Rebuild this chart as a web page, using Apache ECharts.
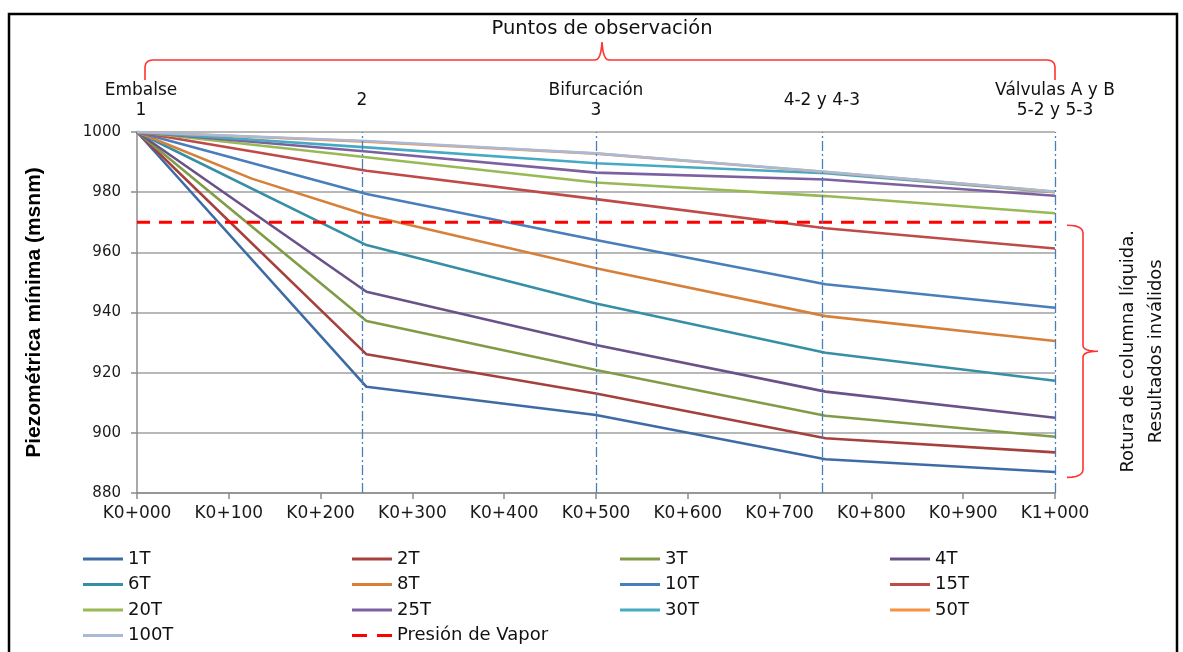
<!DOCTYPE html>
<html><head><meta charset="utf-8">
<script src="https://cdn.jsdelivr.net/npm/echarts@6/dist/echarts.min.js"></script>
<style>html,body{margin:0;padding:0;background:#fff}#c{width:1183px;height:652px}</style>
</head><body><div id="c"></div>
<script>
// ---- data ----
const stations = [0, 250, 500, 750, 1000];
const stations8T = [0, 125, 250, 500, 750, 1000];
const s1T   = [1000, 915.3, 905.9, 891.2, 887.0];
const s2T   = [1000, 926.1, 913.1, 898.2, 893.5];
const s3T   = [1000, 937.2, 920.9, 905.7, 898.7];
const s4T   = [1000, 946.9, 929.2, 913.7, 905.0];
const s6T   = [1000, 962.4, 943.0, 926.6, 917.3];
const s8T   = [1000, 984.5, 972.4, 954.7, 938.8, 930.5];
const s10T  = [1000, 979.4, 964.1, 949.4, 941.6];
const s15T  = [1000, 987.1, 977.7, 968.0, 961.3];
const s20T  = [1000, 991.6, 983.2, 978.7, 973.0];
const s25T  = [1000, 993.5, 986.5, 984.2, 978.8];
const s30T  = [1000, 994.9, 989.6, 986.3, 980.0];
const s50T  = [1000, 996.8, 992.8, 986.7, 980.1];
const s100T = [1000, 997.0, 992.9, 986.8, 980.2];
const seriesNames = ['1T','2T','3T','4T','6T','8T','10T','15T','20T','25T','30T','50T','100T'];
const seriesValues = [s1T,s2T,s3T,s4T,s6T,s8T,s10T,s15T,s20T,s25T,s30T,s50T,s100T];
const seriesStations = {'8T': stations8T};
const vaporName = 'Presión de Vapor';
const vaporLevel = 970;
const xTickLabels = ['K0+000','K0+100','K0+200','K0+300','K0+400','K0+500','K0+600','K0+700','K0+800','K0+900','K1+000'];
const obsX = [0, 245, 500, 746, 1000];
const obsLabels = ['Embalse\n1', '2', 'Bifurcación\n3', '4-2 y 4-3', 'Válvulas A y B\n5-2 y 5-3'];
const obsTitle = 'Puntos de observación';
const ruptureText = 'Rotura de columna líquida.\nResultados inválidos';
const ruptureRange = [969, 885.2];
const yAxisTitle = 'Piezométrica mínima (msnm)';

// ---- style ----
const colors = ['#3f6ba5','#a5403d','#809c47','#6a5289','#368fa5','#d6803a','#4a7ebb','#be4b48','#98b954','#7d60a0','#46aac5','#f69240','#a9b9d6'];
const F = 'DejaVu Sans';

const chart = echarts.init(document.getElementById('c'), null, {renderer: 'canvas'});

const series = seriesNames.map((n, i) => {
  const xs = seriesStations[n] || stations;
  return {
    name: n, type: 'line', symbol: 'none', smooth: false,
    data: xs.map((x, j) => [x, seriesValues[i][j]]),
    lineStyle: {width: 2.6, color: colors[i]}, itemStyle: {color: colors[i]},
    z: 3
  };
});
series.push({
  name: vaporName, type: 'line', symbol: 'none',
  data: [[stations[0], vaporLevel], [stations[stations.length - 1], vaporLevel]],
  lineStyle: {width: 3, color: '#ff0000', type: [13, 9]}, itemStyle: {color: '#ff0000'},
  z: 4,
  markLine: {
    silent: true, symbol: 'none', label: {show: false},
    lineStyle: {color: '#4a7ebb', width: 1.3, type: [10, 3, 2, 3]},
    data: obsX.slice(1).map(x => ({xAxis: x}))
  }
});

const solidIcon = 'path://M0,0 H40 V3 H0 Z';
const dashIcon = 'path://M0,0 H15 V3 H0 Z M25,0 H40 V3 H25 Z';
const legendCols = [
  ['1T','6T','20T','100T'],
  ['2T','8T','25T',vaporName],
  ['3T','10T','30T'],
  ['4T','15T','50T']
];
const legendLeft = [83, 352, 620, 890];
const legends = legendCols.map((d, i) => ({
  data: d.map(n => ({name: n, icon: n === vaporName ? dashIcon : solidIcon})),
  orient: 'vertical', left: legendLeft[i], top: 550, padding: 0, height: 102,
  itemWidth: 40, itemHeight: 3, itemGap: 7.5, selectedMode: false,
  textStyle: {fontFamily: F, fontSize: 18, color: '#111'}
}));

chart.setOption({
  animation: false,
  backgroundColor: '#fff',
  grid: {left: 137, right: 128, top: 132, bottom: 159, containLabel: false},
  legend: legends,
  xAxis: {
    type: 'value', min: 0, max: 1000, interval: 100,
    axisLine: {show: true, lineStyle: {color: '#8c8c8c', width: 1.5}},
    axisTick: {show: true, inside: false, length: 6, lineStyle: {color: '#8c8c8c', width: 1.5}},
    axisLabel: {margin: 12, fontFamily: F, fontSize: 17, color: '#1a1a1a',
      formatter: v => xTickLabels[Math.round(v / 100)]},
    splitLine: {show: false}
  },
  yAxis: {
    type: 'value', min: 880, max: 1000, interval: 20,
    name: yAxisTitle, nameLocation: 'middle', nameGap: 92, nameRotate: 90,
    nameTextStyle: {fontFamily: 'Liberation Sans', fontWeight: 'bold', fontSize: 21, color: '#000'},
    axisLine: {show: true, lineStyle: {color: '#8c8c8c', width: 1.5}},
    axisTick: {show: true, inside: false, length: 6, lineStyle: {color: '#8c8c8c', width: 1.5}},
    axisLabel: {margin: 16, fontFamily: F, fontSize: 15, color: '#1a1a1a', formatter: v => String(v)},
    splitLine: {show: true, lineStyle: {color: '#a0a0a0', width: 1.5}}
  },
  series: series
});

// ---- annotations (positions from the chart's own scales) ----
const px = (x, y) => chart.convertToPixel({gridIndex: 0}, [x, y]);
function quad(p0, c, p1, n) {
  const pts = [];
  for (let k = 1; k <= n; k++) {
    const t = k / n, u = 1 - t;
    pts.push([u*u*p0[0] + 2*u*t*c[0] + t*t*p1[0], u*u*p0[1] + 2*u*t*c[1] + t*t*p1[1]]);
  }
  return pts;
}
const xl = px(obsX[0], 1000)[0] + 8;
const xr = px(obsX[obsX.length - 1], 1000)[0];
const xm = (xl + xr) / 2 + 2;
const hY = 60, tipY = 42, endY = 80;
let topPts = [[xl, endY], [xl, hY + 8]];
topPts = topPts.concat(quad([xl, hY + 8], [xl, hY], [xl + 8, hY], 6));
topPts.push([xm - 7, hY]);
topPts = topPts.concat(quad([xm - 7, hY], [xm - 1, hY], [xm, tipY], 6));
topPts = topPts.concat(quad([xm, tipY], [xm + 1, hY], [xm + 7, hY], 6));
topPts.push([xr - 8, hY]);
topPts = topPts.concat(quad([xr - 8, hY], [xr, hY], [xr, hY + 8], 6));
topPts.push([xr, endY]);

const rTop = px(1000, ruptureRange[0])[1];
const rBot = px(1000, ruptureRange[1])[1];
const rMid = (rTop + rBot) / 2;
const bx0 = xr + 12, bx1 = xr + 28, bx2 = xr + 43;
let rbPts = [[bx0, rTop]];
rbPts = rbPts.concat(quad([bx0, rTop], [bx1, rTop], [bx1, rTop + 8], 6));
rbPts.push([bx1, rMid - 6]);
rbPts = rbPts.concat(quad([bx1, rMid - 6], [bx1, rMid], [bx2, rMid], 6));
rbPts = rbPts.concat(quad([bx2, rMid], [bx1, rMid], [bx1, rMid + 6], 6));
rbPts.push([bx1, rBot - 8]);
rbPts = rbPts.concat(quad([bx1, rBot - 8], [bx1, rBot], [bx0, rBot], 6));

const graphics = [
  {type: 'rect', shape: {x: 9, y: 14, width: 1168, height: 700}, style: {fill: 'none', stroke: '#000', lineWidth: 2.5}, silent: true},
  {type: 'text', x: xm, y: 29, style: {text: obsTitle, font: `19.5px "${F}"`, fill: '#111', textAlign: 'center', textVerticalAlign: 'middle'}},
  {type: 'polyline', shape: {points: topPts}, style: {fill: null, stroke: '#ff3333', lineWidth: 1.6}},
  {type: 'polyline', shape: {points: rbPts}, style: {fill: null, stroke: '#ff3333', lineWidth: 1.6}},
  {type: 'text', x: bx2 + 44, y: rMid, rotation: Math.PI / 2,
    style: {text: ruptureText, font: `18px "${F}"`, fill: '#111', textAlign: 'center', textVerticalAlign: 'middle', lineHeight: 28}}
];
obsX.forEach((x, i) => {
  const p = px(x, 1000);
  let cx = p[0];
  if (i === 0) cx += 4;
  graphics.push({type: 'text', x: cx, y: 101,
    style: {text: obsLabels[i], font: `17px "${F}"`, fill: '#111', textAlign: 'center', textVerticalAlign: 'middle', lineHeight: 20}});
});
chart.setOption({graphic: graphics});
</script>
</body></html>
